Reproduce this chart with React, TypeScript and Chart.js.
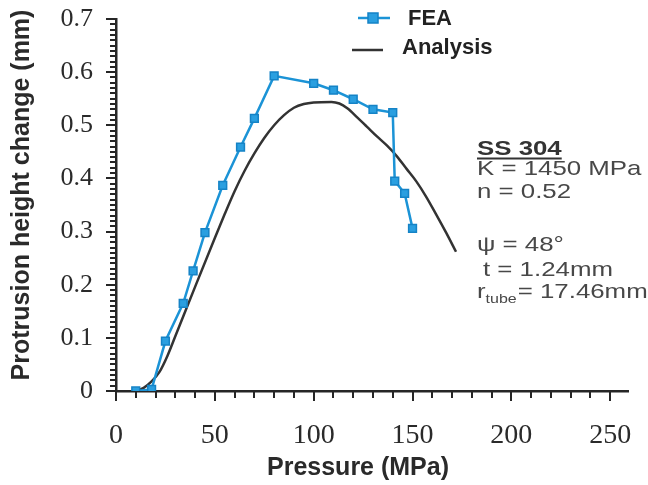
import { useEffect, useRef } from "react";
import { Chart, registerables } from "chart.js";

Chart.register(...registerables);

// ---- data ----
const seriesNames = ["FEA", "Analysis"];
const feaPressure = [10, 18, 25, 34, 39, 45, 54, 63, 70, 80, 100, 110, 120, 130, 140, 141, 146, 150];
const feaHeight = [0, 0.003, 0.094, 0.165, 0.226, 0.298, 0.387, 0.459, 0.513, 0.593, 0.579, 0.566, 0.549, 0.53, 0.524, 0.395, 0.372, 0.306];
const analysisPressure = [10, 14, 18, 22, 26, 30, 40, 50, 55, 60, 65, 70, 75, 80, 85, 90, 95, 100, 109, 113, 117, 122, 127, 132, 137, 142, 147, 152, 157, 162, 167, 172];
const analysisHeight = [0, 0.006, 0.018, 0.036, 0.066, 0.103, 0.196, 0.288, 0.333, 0.376, 0.414, 0.447, 0.476, 0.5, 0.519, 0.533, 0.54, 0.543, 0.544, 0.541, 0.532, 0.515, 0.497, 0.479, 0.462, 0.442, 0.418, 0.394, 0.365, 0.332, 0.298, 0.262];
const xMajorTicks = [0, 50, 100, 150, 200, 250];
const yMajorTicks = [0, 0.1, 0.2, 0.3, 0.4, 0.5, 0.6, 0.7];
const xMinorStep = 10;
const yMinorStep = 0.01;
const xTitle = "Pressure (MPa)";
const yTitle = "Protrusion height change (mm)";
const materialTitle = "SS 304";
const materialLines = ["K = 1450 MPa", "n = 0.52"];
const geometryLines = ["\u03C8 = 48\u00B0", "t = 1.24mm"];
const radiusLabel = ["r", "tube", "= 17.46mm"];

const FEA_BLUE = "#1b93d6";
const ANALYSIS_GRAY = "#333333";
const AXIS = "#262626";

const overlayPlugin = {
  id: "overlay",
  afterDraw(chart: any) {
    const ctx: CanvasRenderingContext2D = chart.ctx;
    const xs = chart.scales.x;
    const ys = chart.scales.y;
    const area = chart.chartArea;
    ctx.save();

    // tick marks (minor + major) through the scales
    ctx.strokeStyle = AXIS;
    const xLast = xMajorTicks[xMajorTicks.length - 1];
    const yLast = yMajorTicks[yMajorTicks.length - 1];
    const nx = Math.round(xLast / xMinorStep);
    for (let i = 0; i <= nx; i++) {
      const v = i * xMinorStep;
      const major = xMajorTicks.includes(v);
      const px = Math.round(xs.getPixelForValue(v));
      ctx.lineWidth = 2;
      ctx.beginPath();
      ctx.moveTo(px, area.bottom);
      ctx.lineTo(px, area.bottom + (major ? 10 : 7));
      ctx.stroke();
    }
    const ny = Math.round(yLast / yMinorStep);
    for (let i = 0; i <= ny; i++) {
      const v = i * yMinorStep;
      const major = i % 10 === 0;
      const py = Math.round(ys.getPixelForValue(v));
      ctx.lineWidth = 2;
      ctx.beginPath();
      ctx.moveTo(area.left - (major ? 10 : 6), py);
      ctx.lineTo(area.left, py);
      ctx.stroke();
    }

    // axis titles
    ctx.fillStyle = "#2a2a2a";
    ctx.font = "bold 25px 'Liberation Sans', Arial, sans-serif";
    ctx.textAlign = "center";
    ctx.textBaseline = "middle";
    ctx.fillText(xTitle, 358, 468);
    ctx.save();
    ctx.translate(22, 195);
    ctx.rotate(-Math.PI / 2);
    ctx.fillText(yTitle, 0, 0);
    ctx.restore();

    // legend
    const ds = chart.data.datasets;
    ctx.lineWidth = 2.5;
    ctx.strokeStyle = ds[0].borderColor;
    ctx.beginPath();
    ctx.moveTo(358, 18);
    ctx.lineTo(390, 18);
    ctx.stroke();
    ctx.fillStyle = ds[0].pointBackgroundColor;
    ctx.fillRect(368, 13, 10, 10);
    ctx.strokeStyle = ds[0].pointBorderColor;
    ctx.lineWidth = 1.5;
    ctx.strokeRect(368, 13, 10, 10);
    ctx.lineWidth = 2.5;
    ctx.strokeStyle = ds[1].borderColor;
    ctx.beginPath();
    ctx.moveTo(352, 50);
    ctx.lineTo(383, 50);
    ctx.stroke();
    ctx.fillStyle = "#222";
    ctx.font = "bold 22px 'Liberation Sans', Arial, sans-serif";
    ctx.textAlign = "left";
    ctx.textBaseline = "middle";
    ctx.fillText(ds[0].label, 408, 19);
    ctx.fillText(ds[1].label, 402, 48);

    // annotation block
    const sx = 1.23;
    const drawStretched = (t: string, x: number, y: number, font: string) => {
      ctx.save();
      ctx.font = font;
      ctx.translate(x, y);
      ctx.scale(sx, 1);
      ctx.fillText(t, 0, 0);
      const w = ctx.measureText(t).width * sx;
      ctx.restore();
      return w;
    };
    ctx.textBaseline = "alphabetic";
    ctx.textAlign = "left";
    const reg = "21px 'Liberation Sans', Arial, sans-serif";
    ctx.fillStyle = "#333";
    const wTitle = drawStretched(materialTitle, 477, 155, "bold 21px 'Liberation Sans', Arial, sans-serif");
    ctx.strokeStyle = "#333";
    ctx.lineWidth = 2;
    ctx.beginPath();
    ctx.moveTo(477, 158.5);
    ctx.lineTo(477 + wTitle, 158.5);
    ctx.stroke();
    ctx.fillStyle = "#484848";
    drawStretched(materialLines[0], 477, 175, reg);
    drawStretched(materialLines[1], 477, 198, reg);
    drawStretched(geometryLines[0], 477, 251, reg);
    drawStretched(geometryLines[1], 483, 276, reg);
    let x = 477;
    x += drawStretched(radiusLabel[0], x, 298, reg);
    x += drawStretched(radiusLabel[1], x, 303, "13px 'Liberation Sans', Arial, sans-serif");
    drawStretched(radiusLabel[2], x + 1, 298, reg);

    ctx.restore();
  },
};

export default function App() {
  const canvasRef = useRef<HTMLCanvasElement | null>(null);

  useEffect(() => {
    if (!canvasRef.current) return;
    const yLast = yMajorTicks[yMajorTicks.length - 1];
    const chart = new Chart(canvasRef.current, {
      type: "line",
      data: {
        datasets: [
          {
            label: seriesNames[0],
            data: feaPressure.map((p, i) => ({ x: p, y: feaHeight[i] })),
            borderColor: FEA_BLUE,
            backgroundColor: FEA_BLUE,
            borderWidth: 2.5,
            pointStyle: "rect",
            pointRadius: 5.5,
            pointBackgroundColor: "#2a9fe0",
            pointBorderColor: "#1583c6",
            pointBorderWidth: 1.5,
            tension: 0,
            order: 0,
          },
          {
            label: seriesNames[1],
            data: analysisPressure.map((p, i) => ({ x: p, y: analysisHeight[i] })),
            borderColor: ANALYSIS_GRAY,
            backgroundColor: ANALYSIS_GRAY,
            borderWidth: 2.5,
            pointRadius: 0,
            cubicInterpolationMode: "monotone",
            order: 1,
          },
        ],
      },
      options: {
        responsive: true,
        maintainAspectRatio: false,
        animation: false,
        layout: { padding: { left: 0, right: 20, top: 19, bottom: 0 } },
        plugins: {
          legend: { display: false },
          tooltip: { enabled: false },
        },
        scales: {
          x: {
            type: "linear",
            min: 0,
            max: 259,
            afterBuildTicks: (s: any) => {
              s.ticks = xMajorTicks.map((v) => ({ value: v }));
            },
            afterFit: (s: any) => {
              s.height = 94;
              s.paddingLeft = 0;
              s.paddingRight = 0;
            },
            ticks: {
              autoSkip: false,
              maxRotation: 0,
              padding: 28,
              color: "#2a2a2a",
              font: { family: "'Liberation Serif', 'Times New Roman', serif", size: 28 },
            },
            grid: { display: false, drawTicks: false },
            border: { display: true, color: AXIS, width: 2.5 },
            title: { display: false },
          },
          y: {
            type: "linear",
            min: 0,
            max: yLast,
            afterBuildTicks: (s: any) => {
              s.ticks = yMajorTicks.map((v) => ({ value: v }));
            },
            afterFit: (s: any) => {
              s.width = 116;
              s.paddingTop = 0;
              s.paddingBottom = 0;
            },
            ticks: {
              autoSkip: false,
              padding: 23,
              color: "#2a2a2a",
              font: { family: "'Liberation Serif', 'Times New Roman', serif", size: 26 },
              callback: (v: any) => (Number(v) === 0 ? "0" : Number(v).toFixed(1)),
            },
            grid: { display: false, drawTicks: false },
            border: { display: true, color: AXIS, width: 2.5 },
            title: { display: false },
          },
        },
      },
      plugins: [overlayPlugin],
    } as any);
    return () => chart.destroy();
  }, []);

  return (
    <div style={{ position: "absolute", left: 0, top: 0, width: 648, height: 485, background: "#fff" }}>
      <canvas ref={canvasRef} />
    </div>
  );
}
